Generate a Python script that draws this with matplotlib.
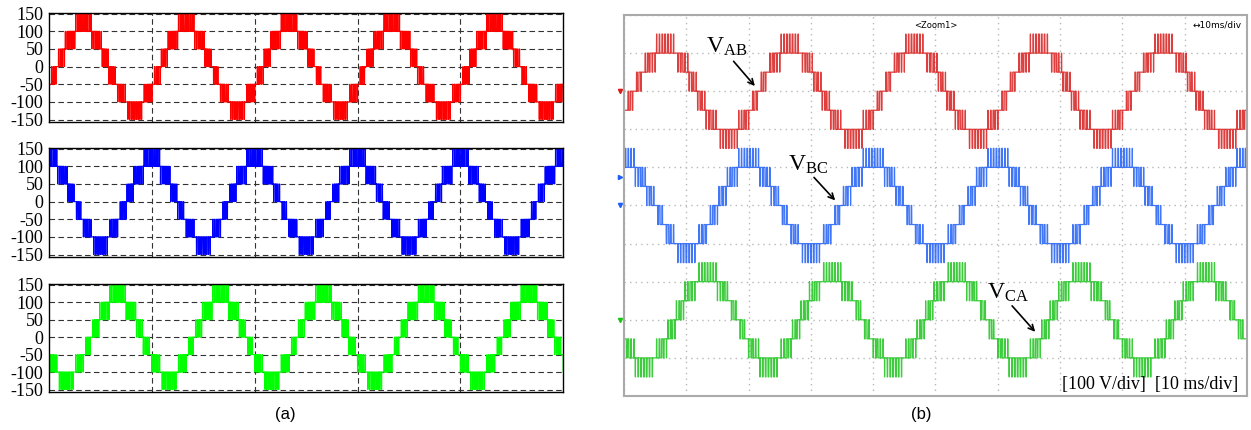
import numpy as np
import matplotlib.pyplot as plt

plt.rcParams['font.family'] = ['Liberation Serif', 'DejaVu Sans']
plt.rcParams['axes.unicode_minus'] = False
plt.rcParams['mathtext.fontset'] = 'custom'
plt.rcParams['mathtext.rm'] = 'Liberation Serif'
plt.rcParams['mathtext.it'] = 'Liberation Serif:italic'

# values
freq_hz = 50                      # 20 ms per cycle, 5 cycles shown
line_names = ['AB', 'BC', 'CA']
peak_phase_deg = [120, 0, 240]    # where each line voltage peaks in the cycle
levels = [-150, -100, -50, 0, 50, 100, 150]   # 7-level staircase
ref_amplitude = 115
carrier_sim_hz = 3000
carrier_exp_hz = 2200
yticks_a = [-150, -100, -50, 0, 50, 100, 150]
scope_offsets_v = [300, 0, -300]  # trace positions on the scope screen
sim_colors = ['#ff0000', '#0000ff', '#00ff00']
exp_colors = ['#d81c1c', '#1f5ff5', '#1cc41c']


def multilevel(t, phase_deg, fc):
    """level shifted PWM between neighbouring levels"""
    ref = ref_amplitude * np.cos(2 * np.pi * freq_hz * t - np.radians(phase_deg))
    step = levels[1] - levels[0]
    band = np.clip(np.floor((ref - levels[0]) / step), 0, len(levels) - 2)
    frac = (ref - levels[0]) / step - band
    carrier = np.abs(2 * ((t * fc) % 1) - 1)
    return levels[0] + step * (band + (frac > carrier))


fig = plt.figure(figsize=(12.51, 4.30), dpi=100)

#(a) simulation, three stacked plots
t = np.linspace(0, 0.1, 120001)
rects = [[0.0392, 0.7163, 0.411, 0.2535],
         [0.0392, 0.4023, 0.411, 0.2535],
         [0.0392, 0.0884, 0.411, 0.2510]]
for rect, ph, col in zip(rects, peak_phase_deg, sim_colors):
    ax = fig.add_axes(rect)
    ax.plot(t, multilevel(t, ph, carrier_sim_hz), color=col, lw=0.8)
    ax.set_xlim(0, 0.1)
    ax.set_ylim(-157, 152)
    ax.set_yticks(yticks_a)
    ax.set_xticks([0.02, 0.04, 0.06, 0.08])
    ax.set_xticklabels([])
    ax.grid(True, ls=(0, (5, 3)), color='#333333', lw=0.8)
    ax.tick_params(length=0, pad=4, labelsize=13)
    for s in ax.spines.values():
        s.set_linewidth(1.0)

fig.text(0.228, 1 - 415 / 430, '(a)', fontsize=12, family='Liberation Sans',
         ha='center', va='center')

#(b) experiment, scope screen
ax = fig.add_axes([0.4988, 0.0791, 0.498, 0.886])
t2 = np.linspace(0, 0.1, 100001)
for ph, off, col in zip(peak_phase_deg, scope_offsets_v, exp_colors):
    ax.plot(t2 * 1000, multilevel(t2, ph, carrier_exp_hz) + off, color=col, lw=0.9, alpha=0.85)
    # ground marker at the left edge
    ax.plot([-0.7], [off], marker='v', ms=3, color=col, clip_on=False)
ax.plot([-0.7], [75], marker='>', ms=3, color=exp_colors[1], clip_on=False)

ax.set_xlim(0, 100)
ax.set_ylim(-500, 500)
ax.set_xticks(np.arange(0, 101, 10))
ax.set_yticks(np.arange(-500, 501, 100))
ax.set_xticklabels([])
ax.set_yticklabels([])
ax.tick_params(length=0)
ax.grid(True, ls=(0, (1, 3)), color='#b8b8b8', lw=1.0)
for s in ax.spines.values():
    s.set_color('#aaaaaa')
    s.set_linewidth(1.5)

ax.text(0.5, 0.985, '<Zoom1>', transform=ax.transAxes, fontsize=6,
        family='DejaVu Sans', ha='center', va='top')
ax.text(0.992, 0.985, '\u219410ms/div', transform=ax.transAxes, fontsize=6.5,
        family='DejaVu Sans', ha='right', va='top')

# labels with arrows
label_xy = [(13.2, 400), (26.3, 92), (58.3, -245)]
arrow_from = [(17.3, 384), (30.2, 79), (62.0, -258)]
arrow_to = [(21.3, 308), (34.2, 8), (66.3, -337)]
for name, lxy, a0, a1 in zip(line_names, label_xy, arrow_from, arrow_to):
    ax.text(lxy[0], lxy[1], r'$\mathrm{V}_{\mathrm{' + name + '}}$', fontsize=17,
            ha='left', va='baseline')
    ax.annotate('', xy=a1, xytext=a0,
                arrowprops=dict(arrowstyle='->', color='black', lw=1.2))

ax.text(0.986, 0.008, '[100 V/div]  [10 ms/div]', transform=ax.transAxes,
        fontsize=13, ha='right', va='bottom')

fig.text(921 / 1251, 1 - 415 / 430, '(b)', fontsize=12, family='Liberation Sans',
         ha='center', va='center')

plt.savefig('out.png', dpi=100)
